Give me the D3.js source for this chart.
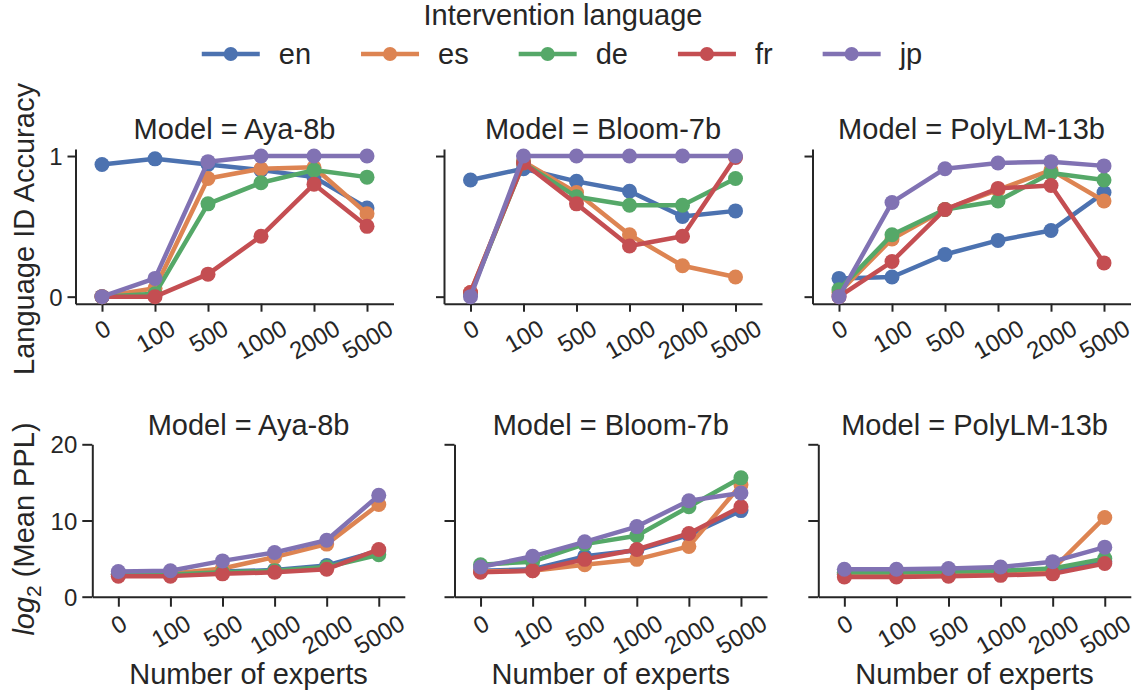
<!DOCTYPE html>
<html><head><meta charset="utf-8">
<script src="https://cdn.jsdelivr.net/npm/d3@7"></script>
<style>
body{margin:0;background:#fff;}
text{font-family:"Liberation Sans",Arial,sans-serif;fill:#262626;}
</style>
</head><body><svg id="c" width="1137" height="697"></svg>
<script>
// ---------- data ----------
const experts = ["0","100","500","1000","2000","5000"];
const languages = ["en","es","de","fr","jp"];
const models = ["Aya-8b","Bloom-7b","PolyLM-13b"];
const accTicks = [0,1];
const pplTicks = [0,10,20];

// Language ID accuracy, rows in language order en, es, de, fr, jp
const accAya = [
  [0.94,0.98,0.94,0.90,0.85,0.63],
  [0.00,0.06,0.84,0.91,0.92,0.59],
  [0.00,0.02,0.66,0.81,0.90,0.85],
  [0.00,0.00,0.16,0.43,0.80,0.50],
  [0.00,0.13,0.96,1.00,1.00,1.00]];
const accBloom = [
  [0.83,0.91,0.82,0.75,0.57,0.61],
  [0.03,0.96,0.74,0.44,0.22,0.14],
  [0.02,0.95,0.71,0.65,0.65,0.84],
  [0.03,0.95,0.66,0.36,0.43,0.99],
  [0.00,1.00,1.00,1.00,1.00,1.00]];
const accPoly = [
  [0.13,0.14,0.30,0.40,0.47,0.74],
  [0.03,0.41,0.62,0.76,0.90,0.68],
  [0.05,0.44,0.62,0.68,0.88,0.83],
  [0.00,0.25,0.62,0.77,0.79,0.24],
  [0.00,0.67,0.91,0.95,0.96,0.93]];
const accPolyErr = [
  [0.01,0.02,0.03,0.03,0.04,0.03],
  [0.01,0.03,0.03,0.03,0.02,0.05],
  [0.01,0.03,0.02,0.04,0.02,0.02],
  [0.01,0.03,0.02,0.03,0.02,0.01],
  [0.01,0.04,0.02,0.02,0.02,0.02]];

// log2 mean perplexity
const pplAya = [
  [2.9,2.9,3.3,3.5,4.1,6.0],
  [2.9,3.0,3.7,5.2,6.9,12.1],
  [2.9,2.9,3.2,3.4,3.9,5.5],
  [2.7,2.7,3.0,3.2,3.6,6.2],
  [3.3,3.4,4.7,5.8,7.4,13.3]];
const pplBloom = [
  [3.4,3.6,5.3,6.1,8.1,11.3],
  [3.3,3.4,4.2,4.9,6.6,14.7],
  [4.2,4.6,6.9,8.0,11.8,15.6],
  [3.2,3.4,4.9,6.2,8.3,11.8],
  [3.9,5.3,7.2,9.2,12.6,13.6]];
const pplPoly = [
  [2.9,2.9,2.9,3.0,3.3,4.6],
  [3.0,3.0,3.0,3.1,3.6,10.4],
  [3.2,3.2,3.3,3.4,3.7,5.0],
  [2.6,2.6,2.7,2.8,3.0,4.35],
  [3.6,3.6,3.7,3.9,4.6,6.5]];

const palette = ["#4C72B0","#DD8452","#55A868","#C44E52","#8172B3"];

// ---------- layout ----------
const svg = d3.select("#c");
const AX = "#262626";
const TICKFS = 24, LABFS = 29;

const rows = [
  {top:149, bottom:303.7, domain:[-0.05,1.05], ticks:accTicks,
   data:[accAya,accBloom,accPoly], err:[null,null,accPolyErr],
   x0:[75.5,444,812.5], w:318, tick:8, titleY:138.5},
  {top:444.3, bottom:596.7, domain:[0,20], ticks:pplTicks,
   data:[pplAya,pplBloom,pplPoly], err:[null,null,null],
   x0:[92.3,454.5,818.3], w:312.5, tick:10, titleY:435}
];

rows.forEach((row, ri) => {
  const y = d3.scaleLinear().domain(row.domain).range([row.bottom, row.top]);
  models.forEach((m, ci) => {
    const x0 = row.x0[ci];
    const x = d3.scalePoint().domain(experts).range([x0, x0 + row.w]).padding(0.5);
    const g = svg.append("g");

    // x axis
    const gx = g.append("g").attr("transform", `translate(0,${row.bottom})`)
      .call(d3.axisBottom(x).tickSize(row.tick).tickSizeOuter(0));
    gx.select(".domain").attr("stroke", AX).attr("stroke-width", 2);
    gx.selectAll(".tick line").attr("stroke", AX).attr("stroke-width", 2);
    gx.selectAll(".tick text").each(function() {
      const t = d3.select(this);
      t.attr("font-size", TICKFS).attr("fill", AX).attr("dy", null)
       .attr("text-anchor", "middle").attr("dominant-baseline", "central");
      const w = this.getComputedTextLength();
      const H = w * 0.5 + 25 * 0.866;
      const cy = row.tick + 3.5 + H / 2;
      t.attr("x", 0).attr("y", cy).attr("transform", `rotate(-30,0,${cy})`);
    });

    // y axis
    const gy = g.append("g").attr("transform", `translate(${x0},0)`)
      .call(d3.axisLeft(y).tickValues(row.ticks).tickSize(row.tick).tickSizeOuter(0).tickFormat(d3.format("d")));
    gy.select(".domain").attr("stroke", AX).attr("stroke-width", 2);
    gy.selectAll(".tick line").attr("stroke", AX).attr("stroke-width", 2);
    gy.selectAll(".tick text").attr("font-size", TICKFS).attr("fill", AX)
      .attr("x", -(row.tick + 5)).attr("dy", null).attr("dominant-baseline", "central");
    if (ci > 0) gy.selectAll(".tick text").remove();
    gx.attr("font-family", null); gy.attr("font-family", null);

    // title
    g.append("text").attr("x", x0 + row.w / 2).attr("y", row.titleY)
      .attr("text-anchor", "middle").attr("font-size", LABFS)
      .text(`Model = ${m}`);

    // series
    const data = row.data[ci];
    const err = row.err[ci];
    const line = d3.line().x((d, i) => x(experts[i])).y(d => y(d));
    languages.forEach((lang, li) => {
      const vals = data[li];
      const sg = g.append("g");
      sg.append("path").datum(vals).attr("d", line)
        .attr("fill", "none").attr("stroke", palette[li]).attr("stroke-width", 4.5)
        .attr("stroke-linejoin", "round");
      if (err) {
        sg.selectAll("line.err").data(vals).join("line")
          .attr("x1", (d, i) => x(experts[i])).attr("x2", (d, i) => x(experts[i]))
          .attr("y1", (d, i) => y(d - err[li][i])).attr("y2", (d, i) => y(d + err[li][i]))
          .attr("stroke", palette[li]).attr("stroke-width", 4.5);
      }
      sg.selectAll("circle").data(vals).join("circle")
        .attr("cx", (d, i) => x(experts[i])).attr("cy", d => y(d))
        .attr("r", 7.5).attr("fill", palette[li]);
    });

    if (ri === 1) {
      g.append("text").attr("x", x0 + row.w / 2).attr("y", 684)
        .attr("text-anchor", "middle").attr("font-size", LABFS)
        .text("Number of experts");
    }
  });
});

// y labels
svg.append("text").attr("transform", "translate(34,229) rotate(-90)")
  .attr("text-anchor", "middle").attr("font-size", LABFS)
  .text("Language ID Accuracy");
const yl2 = svg.append("text").attr("transform", "translate(34,529) rotate(-90)")
  .attr("text-anchor", "middle").attr("font-size", LABFS);
yl2.append("tspan").attr("font-style", "italic").text("log");
yl2.append("tspan").attr("font-size", 21).attr("dy", 7).text("2");
yl2.append("tspan").attr("dy", -7).text(" (Mean PPL)");

// legend
svg.append("text").attr("x", 563).attr("y", 25).attr("text-anchor", "middle")
  .attr("font-size", LABFS).text("Intervention language");
const lg = svg.append("g");
const HANDLE = 58, GAP = 19, COLSP = 50, LY = 54;
const items = languages.map((lang, i) => {
  const it = lg.append("g");
  it.append("line").attr("x1", 0).attr("x2", HANDLE).attr("y1", LY).attr("y2", LY)
    .attr("stroke", palette[i]).attr("stroke-width", 4.5);
  it.append("circle").attr("cx", HANDLE / 2).attr("cy", LY).attr("r", 7).attr("fill", palette[i]);
  const t = it.append("text").attr("x", HANDLE + GAP).attr("y", LY)
    .attr("dominant-baseline", "central").attr("font-size", LABFS).text(lang);
  return {g: it, w: HANDLE + GAP + t.node().getComputedTextLength()};
});
const total = d3.sum(items, d => d.w) + COLSP * (items.length - 1);
let cx = 562 - total / 2;
items.forEach(d => { d.g.attr("transform", `translate(${cx},0)`); cx += d.w + COLSP; });
</script>
</body></html>
